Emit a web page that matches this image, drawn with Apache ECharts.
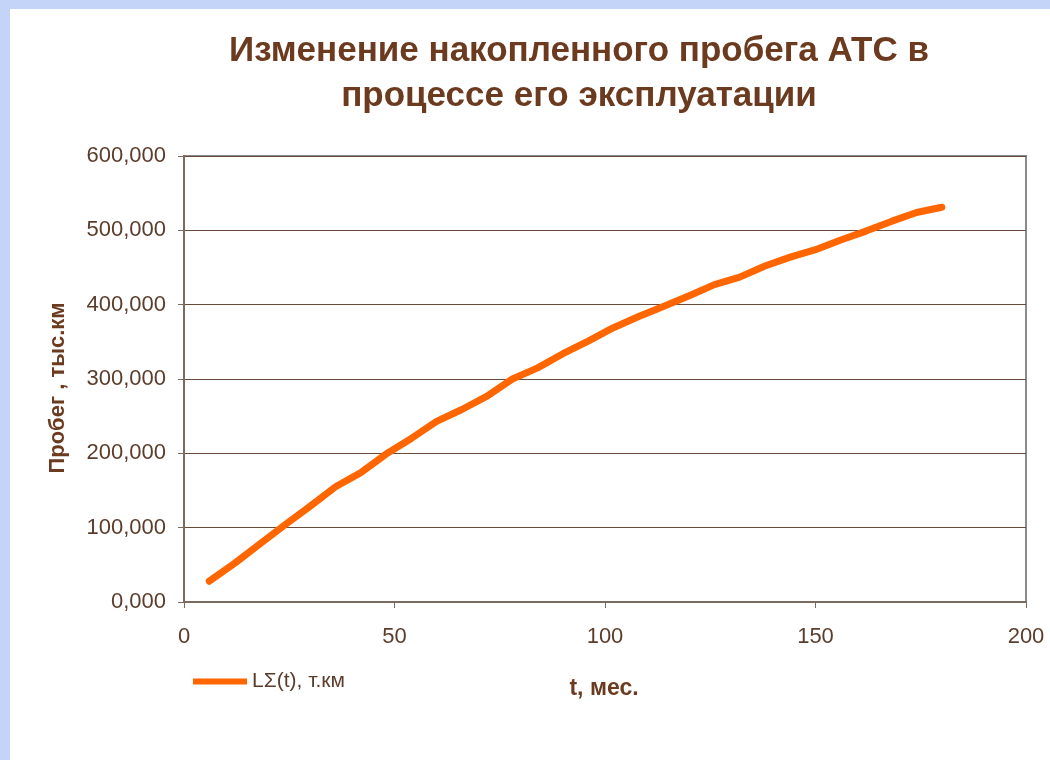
<!DOCTYPE html>
<html>
<head>
<meta charset="utf-8">
<script src="https://cdn.jsdelivr.net/npm/echarts@6/dist/echarts.min.js"></script>
<style>
  html, body { margin: 0; padding: 0; width: 1050px; height: 760px; background: #c4d4f8; overflow: hidden; }
  #chart { position: absolute; left: 10px; top: 9px; width: 1040px; height: 751px; background: #fff; }
</style>
</head>
<body>
<div id="chart"></div>
<script>
// t, months
const months = [6, 12, 18, 24, 30, 36, 42, 48, 54, 60, 66, 72, 78, 84, 90,
                96, 102, 108, 114, 120, 126, 132, 138, 144, 150, 156, 162, 168, 174, 180];
// accumulated mileage, тыс.км
const mileage = [28, 52, 78, 104, 129, 155, 174, 199, 220, 243, 259, 277, 300, 315, 334,
                 351, 369, 384, 398, 412, 427, 437, 452, 464, 474, 487, 499, 512, 524, 531];
const seriesName = 'LΣ(t), т.км';
const titleText = 'Изменение накопленного пробега АТС в\nпроцессе его эксплуатации';

const brown = '#5c3d2b';
const font = 'Liberation Sans, Arial, sans-serif';

const myChart = echarts.init(document.getElementById('chart'));
myChart.setOption({
  animation: false,
  textStyle: {fontFamily: font},
  title: {
    text: titleText,
    left: 564,
    top: 15,
    textAlign: 'center',
    textStyle: {
      color: '#6b3a1f',
      fontSize: 35,
      fontWeight: 'bold',
      lineHeight: 45,
      fontFamily: font
    }
  },
  grid: {
    left: 174,
    top: 147,
    right: 24,
    bottom: 158,
    show: true,
    borderColor: '#8a8a8a',
    borderWidth: 2,
    backgroundColor: '#fff'
  },
  legend: {
    data: [seriesName],
    left: 178,
    top: 657,
    icon: 'rect',
    itemWidth: 54,
    itemHeight: 6,
    textStyle: {color: brown, fontSize: 21, fontFamily: font}
  },
  xAxis: {
    type: 'value',
    min: 0,
    max: 200,
    interval: 50,
    axisLine: {show: true, lineStyle: {color: '#7a6a60', width: 2}},
    axisTick: {show: true, length: 6, lineStyle: {color: '#7a6a60'}},
    axisLabel: {color: brown, fontSize: 22, margin: 24},
    splitLine: {show: false}
  },
  yAxis: {
    type: 'value',
    min: 0,
    max: 600,
    interval: 100,
    axisLine: {show: true, lineStyle: {color: '#7a6a60', width: 2}},
    axisTick: {show: true, length: 6, lineStyle: {color: '#7a6a60'}},
    axisLabel: {
      color: brown,
      fontSize: 22,
      margin: 18,
      formatter(val) {
        return val.toFixed(3).replace('.', ',');
      }
    },
    splitLine: {show: true, lineStyle: {color: '#6a4a3a', width: 1}}
  },
  graphic: [{
    type: 'text',
    x: 48,
    y: 379,
    rotation: Math.PI / 2,
    style: {
      text: 'Пробег , тыс.км',
      fill: '#6b3a1f',
      font: 'bold 22px ' + font,
      align: 'center',
      verticalAlign: 'middle'
    }
  }, {
    type: 'text',
    x: 594,
    y: 680,
    style: {
      text: 't, мес.',
      fill: '#6b3a1f',
      font: 'bold 23px ' + font,
      align: 'center',
      verticalAlign: 'middle'
    }
  }],
  series: [{
    name: seriesName,
    type: 'line',
    data: months.map((m, i) => [m, mileage[i]]),
    showSymbol: false,
    smooth: false,
    color: '#ff6600',
    lineStyle: {width: 7, color: '#ff6600', cap: 'round', join: 'round'}
  }]
});
</script>
</body>
</html>
